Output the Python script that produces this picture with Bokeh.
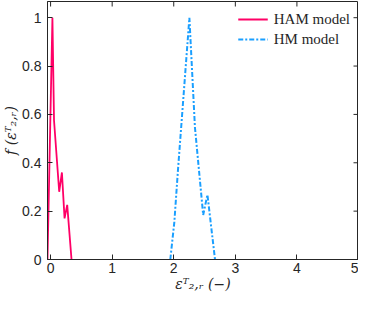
import math
from bokeh.plotting import figure
from bokeh.models import Range1d, FixedTicker
from bokeh.embed import file_html
from bokeh.resources import INLINE

# Data
ham_x = [-0.05, 0.03, 0.056, 0.14, 0.184, 0.227, 0.27, 0.34]
ham_y = [0.0, 1.0, 0.575, 0.28, 0.36, 0.17, 0.226, 0.0]
hm_x = [1.944, 2.01, 2.067, 2.254, 2.344, 2.478, 2.547, 2.67]
hm_y = [0.0, 0.156, 0.365, 1.0, 0.547, 0.184, 0.268, 0.0]

x_ticks = [0, 1, 2, 3, 4, 5]
x_tick_labels = ["0", "1", "2", "3", "4", "5"]
y_ticks = [0, 0.2, 0.4, 0.6, 0.8, 1.0]
y_tick_labels = ["0", "0.2", "0.4", "0.6", "0.8", "1"]

X_MIN, X_MAX = -0.05, 5.0
Y_MIN, Y_MAX = 0.0, 1.067

AX = "#262626"

p = figure(width=358, height=294, output_backend="svg", toolbar_location=None,
           x_range=Range1d(X_MIN, X_MAX), y_range=Range1d(Y_MIN, Y_MAX),
           min_border_left=45, min_border_right=0, min_border_top=1,
           min_border_bottom=20)

p.line(ham_x, ham_y, line_color="#ff0066", line_width=1.8, legend_label="HAM model")
p.line(hm_x, hm_y, line_color="#1a9fff", line_width=2, line_dash="5 2 2 2",
       legend_label="HM model")

# mirrored inward ticks on top and right edges
p.ray(x=x_ticks, y=[Y_MAX] * len(x_ticks), length=5, length_units="screen",
      angle=-math.pi / 2, line_color=AX, line_width=1)
p.ray(x=[X_MAX] * len(y_ticks), y=y_ticks, length=5, length_units="screen",
      angle=math.pi, line_color=AX, line_width=1)

p.xgrid.visible = False
p.ygrid.visible = False
p.outline_line_color = AX
p.outline_line_width = 1
p.background_fill_color = "white"
p.border_fill_color = "white"

def style_axis(ax, ticks, labels):
    ax.ticker = FixedTicker(ticks=ticks)
    ax.major_label_overrides = {t: l for t, l in zip(ticks, labels)}
    ax.major_tick_in = 5
    ax.major_tick_out = 0
    ax.minor_tick_line_color = None
    ax.axis_line_color = AX
    ax.major_tick_line_color = AX
    ax.major_label_text_color = AX
    ax.major_label_text_font = "Liberation Sans"
    ax.major_label_text_font_size = "14px"
    ax.major_label_standoff = 3

style_axis(p.xaxis[0], x_ticks, x_tick_labels)
style_axis(p.yaxis[0], y_ticks, y_tick_labels)
p.yaxis[0].major_label_standoff = 6

p.xaxis[0].axis_label = "εᵀ₂,ᵣ (−)"
p.yaxis[0].axis_label = "f (εᵀ₂,ᵣ)"
for ax in (p.xaxis[0], p.yaxis[0]):
    ax.axis_label_text_font = "DejaVu Serif"
    ax.axis_label_text_font_style = "italic"
    ax.axis_label_text_font_size = "14px"
    ax.axis_label_text_color = AX
    ax.axis_label_standoff = 0

lg = p.legend[0]
lg.location = "top_right"
lg.border_line_alpha = 0
lg.background_fill_alpha = 0
lg.label_text_font = "Liberation Serif"
lg.label_text_font_size = "15px"
lg.label_text_color = AX
lg.glyph_width = 30
lg.label_standoff = 6
lg.spacing = -1
lg.padding = 4
lg.margin = 4

open("out.html", "w").write(file_html(p, INLINE))
